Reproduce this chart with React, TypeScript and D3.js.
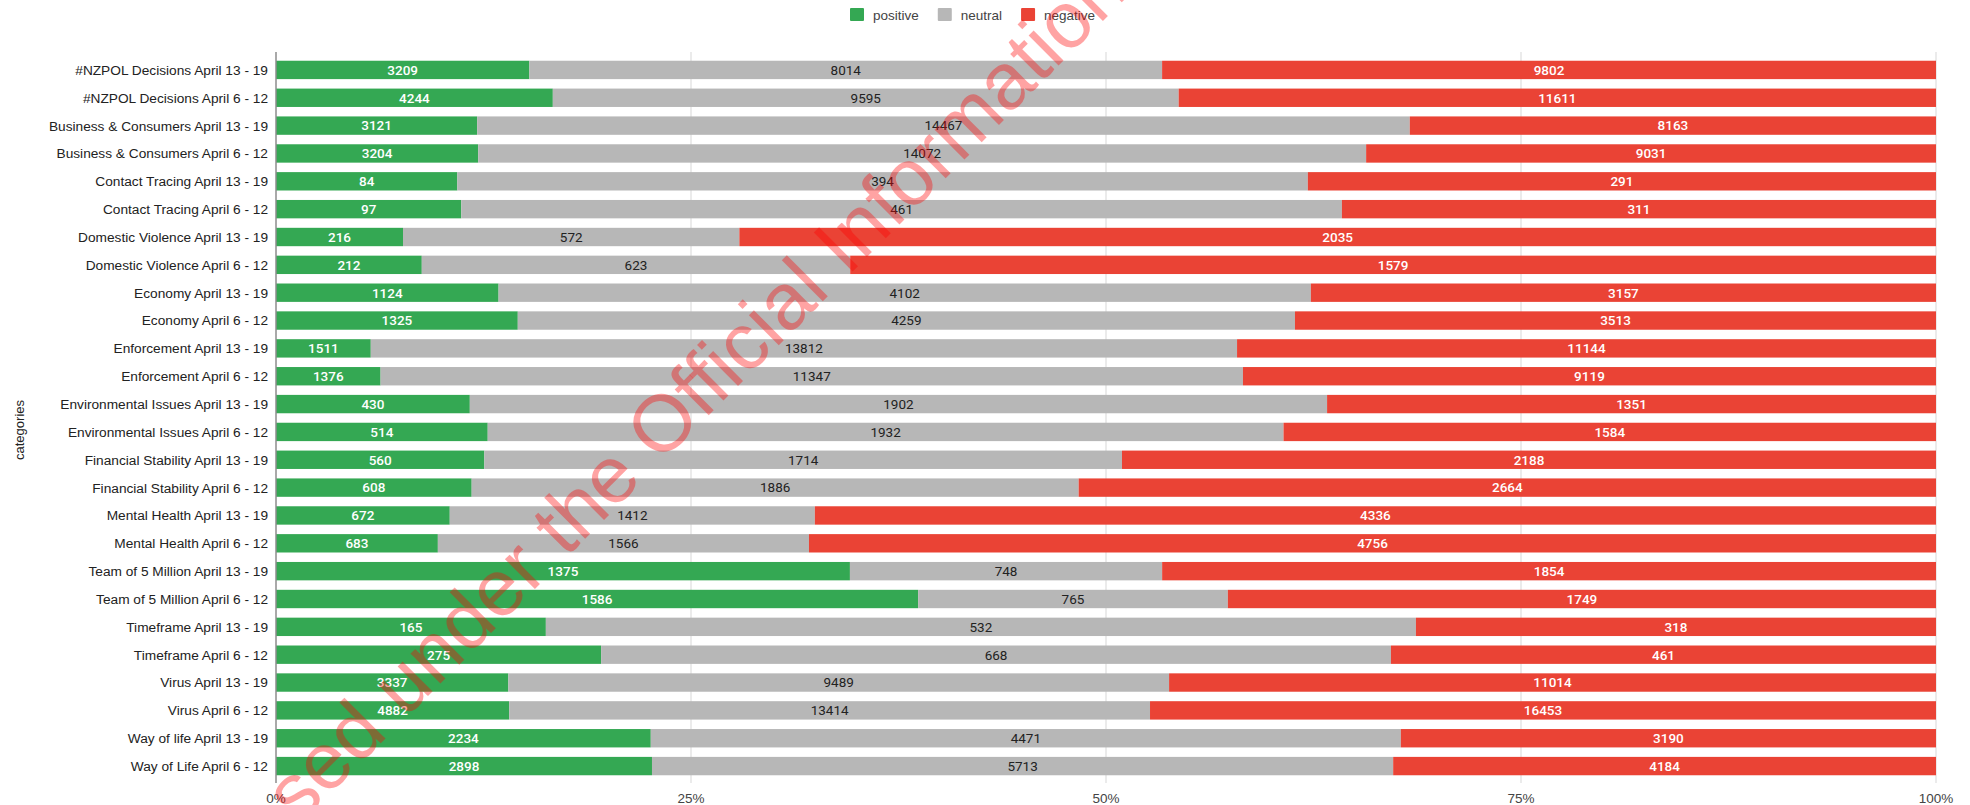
import { useRef, useEffect } from 'react'
import * as d3 from 'd3'

const CATEGORIES = [
  '#NZPOL Decisions April 13 - 19',
  '#NZPOL Decisions April 6 - 12',
  'Business & Consumers April 13 - 19',
  'Business & Consumers April 6 - 12',
  'Contact Tracing April 13 - 19',
  'Contact Tracing April 6 - 12',
  'Domestic Violence April 13 - 19',
  'Domestic Violence April 6 - 12',
  'Economy April 13 - 19',
  'Economy April 6 - 12',
  'Enforcement April 13 - 19',
  'Enforcement April 6 - 12',
  'Environmental Issues April 13 - 19',
  'Environmental Issues April 6 - 12',
  'Financial Stability April 13 - 19',
  'Financial Stability April 6 - 12',
  'Mental Health April 13 - 19',
  'Mental Health April 6 - 12',
  'Team of 5 Million April 13 - 19',
  'Team of 5 Million April 6 - 12',
  'Timeframe April 13 - 19',
  'Timeframe April 6 - 12',
  'Virus April 13 - 19',
  'Virus April 6 - 12',
  'Way of life April 13 - 19',
  'Way of Life April 6 - 12',
]

const POSITIVE = [3209, 4244, 3121, 3204, 84, 97, 216, 212, 1124, 1325, 1511, 1376, 430, 514, 560, 608, 672, 683, 1375, 1586, 165, 275, 3337, 4882, 2234, 2898]
const NEUTRAL = [8014, 9595, 14467, 14072, 394, 461, 572, 623, 4102, 4259, 13812, 11347, 1902, 1932, 1714, 1886, 1412, 1566, 748, 765, 532, 668, 9489, 13414, 4471, 5713]
const NEGATIVE = [9802, 11611, 8163, 9031, 291, 311, 2035, 1579, 3157, 3513, 11144, 9119, 1351, 1584, 2188, 2664, 4336, 4756, 1854, 1749, 318, 461, 11014, 16453, 3190, 4184]

const SERIES = ['positive', 'neutral', 'negative']
const COLORS = ['#34a853', '#b7b7b7', '#ea4335']
const LABEL_COLORS = ['#ffffff', '#222222', '#ffffff']
const X_TICKS = [0, 0.25, 0.5, 0.75, 1]

const WIDTH = 1970
const HEIGHT = 805
const PLOT = { left: 276, right: 1936, top: 52, bottom: 783 }
const ARIAL = "Arial, 'Liberation Sans', sans-serif"
const ROBOTO = "Roboto, 'Noto Sans', sans-serif"

export default function App() {
  const svgRef = useRef<SVGSVGElement>(null)

  useEffect(() => {
    document.body.style.margin = '0'
    const svg = d3.select(svgRef.current)
    svg.selectAll('*').remove()
    svg.append('rect').attr('width', WIDTH).attr('height', HEIGHT).attr('fill', '#fff')

    const x = d3.scaleLinear().domain([0, 1]).range([PLOT.left, PLOT.right])
    const y = d3.scaleBand<string>()
      .domain(CATEGORIES)
      .range([56, 780])
      .paddingInner(0.34)
      .paddingOuter(0.17)

    // gridlines
    svg.append('g')
      .selectAll('line')
      .data(X_TICKS.slice(1))
      .join('line')
      .attr('x1', d => x(d)).attr('x2', d => x(d))
      .attr('y1', PLOT.top).attr('y2', PLOT.bottom)
      .attr('stroke', '#e4e4e4')
      .attr('stroke-width', 1.5)

    // stacked rows (normalised to 100%)
    const rows = CATEGORIES.map((c, i) => {
      const vals = [POSITIVE[i], NEUTRAL[i], NEGATIVE[i]]
      const total = d3.sum(vals)
      let acc = 0
      return vals.map((v, k) => {
        const seg = { cat: c, k, v, x0: acc / total, x1: (acc + v) / total }
        acc += v
        return seg
      })
    })
    const segs = rows.flat()

    svg.append('g')
      .selectAll('rect')
      .data(segs)
      .join('rect')
      .attr('x', d => x(d.x0))
      .attr('width', d => x(d.x1) - x(d.x0))
      .attr('y', d => y(d.cat)!)
      .attr('height', y.bandwidth())
      .attr('fill', d => COLORS[d.k])

    svg.append('g')
      .selectAll('text')
      .data(segs)
      .join('text')
      .attr('x', d => (x(d.x0) + x(d.x1)) / 2)
      .attr('y', d => y(d.cat)! + y.bandwidth() / 2)
      .attr('dy', '0.36em')
      .attr('text-anchor', 'middle')
      .attr('font-family', ROBOTO)
      .attr('font-size', 13.5)
      .attr('font-weight', d => (d.k === 1 ? 400 : 500))
      .attr('fill', d => LABEL_COLORS[d.k])
      .text(d => d.v)

    // baseline at 0%
    svg.append('line')
      .attr('x1', x(0)).attr('x2', x(0))
      .attr('y1', PLOT.top).attr('y2', PLOT.bottom)
      .attr('stroke', '#8c8c8c')
      .attr('stroke-width', 1.5)

    // category labels
    svg.append('g')
      .selectAll('text')
      .data(CATEGORIES)
      .join('text')
      .attr('x', PLOT.left - 8)
      .attr('y', d => y(d)! + y.bandwidth() / 2)
      .attr('dy', '0.36em')
      .attr('text-anchor', 'end')
      .attr('font-family', ARIAL)
      .attr('font-size', 13.7)
      .attr('fill', '#222')
      .text(d => d)

    // x tick labels
    svg.append('g')
      .selectAll('text')
      .data(X_TICKS)
      .join('text')
      .attr('x', d => x(d))
      .attr('y', 803)
      .attr('text-anchor', 'middle')
      .attr('font-family', ARIAL)
      .attr('font-size', 13.5)
      .attr('fill', '#444')
      .text(d => d3.format('.0%')(d))

    // y axis title
    svg.append('text')
      .attr('transform', `translate(24,430) rotate(-90)`)
      .attr('text-anchor', 'middle')
      .attr('font-family', ARIAL)
      .attr('font-size', 13)
      .attr('fill', '#222')
      .text('categories')

    // legend
    const legend = svg.append('g').attr('transform', 'translate(850,0)')
    let lx = 0
    SERIES.forEach((s, i) => {
      legend.append('rect')
        .attr('x', lx).attr('y', 8)
        .attr('width', 14).attr('height', 13)
        .attr('rx', 1)
        .attr('fill', COLORS[i])
      const t = legend.append('text')
        .attr('x', lx + 23).attr('y', 19.5)
        .attr('font-family', ARIAL)
        .attr('font-size', 13.5)
        .attr('fill', '#444')
        .text(s)
      const w = (t.node() as SVGTextElement).getComputedTextLength()
      lx += 23 + w + 19
    })

    // watermark
    svg.append('text')
      .attr('transform', 'translate(667,416) rotate(-45)')
      .attr('y', 29)
      .attr('text-anchor', 'middle')
      .attr('font-family', ARIAL)
      .attr('font-size', 80)
      .attr('fill', '#ff0000')
      .attr('fill-opacity', 0.36)
      .text('Released under the Official Information Act')
  }, [])

  return (
    <svg
      ref={svgRef}
      width={WIDTH}
      height={HEIGHT}
      style={{ display: 'block', position: 'absolute', left: 0, top: 0 }}
    />
  )
}
